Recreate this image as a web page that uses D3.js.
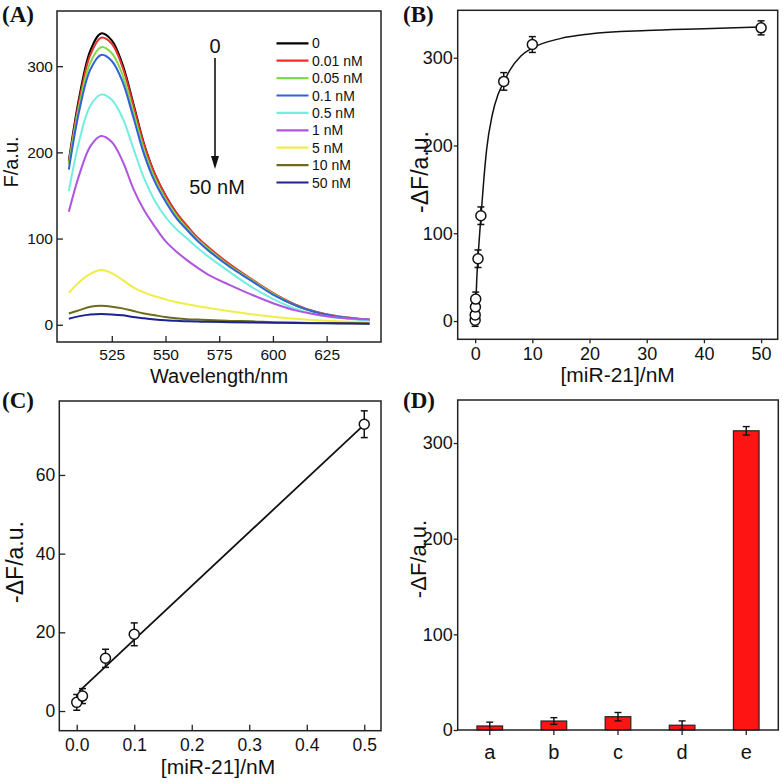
<!DOCTYPE html>
<html><head><meta charset="utf-8">
<script src="https://cdn.jsdelivr.net/npm/d3@7"></script>
<style>body{margin:0;background:#fff}svg{display:block}text{font-family:"Liberation Sans",Arial,sans-serif;fill:#111}</style>
</head><body>
<script>
// ---------- Panel A data ----------
const wavelengths = [505,510,515,520,525,530,535,540,545,550,555,560,565,570,580,590,600,610,620,630,645];
const concLabels = ["0","0.01 nM","0.05 nM","0.1 nM","0.5 nM","1 nM","5 nM","10 nM","50 nM"];
const concColors = ["#000000","#e8312c","#7fdc45","#3160d8","#72eedf","#b055df","#eeee44","#6e6b1c","#1b2390"];
const F_0     = [190,266,318,338,330,302,257,210,175,150,130,114,100,89,69,52,36,23,14.5,9,5.5];
const F_001   = [188,262,313,333,326,299,255,209,175,150,130,115,101,90,70,53,37,24,15,10,6];
const F_005   = [186,256,304,322,315,290,247,203,170,146,127,112,99,88,68,52,36,23,14.5,9.5,5.5];
const F_01    = [180,250,296,313,306,282,241,198,166,143,124,110,97,86,67,51,35,23,14.5,9.5,5.5];
const F_05    = [155,215,254,267,261,240,205,170,144,125,111,100,89,79,61,44,30,19,12,8,5];
const F_1     = [131,175,207,219,212,190,158,133,114,97,85,75,66,58,46,35,25,17,12,8.5,6];
const F_5     = [37,50,59,63.5,60,52,43.5,37.5,33,29.5,26.3,23.7,21.4,19.5,15.7,12.3,9.3,7,5.2,4,3];
const F_10    = [13,17,21,22,21,19,16,13,11,9,7.5,6.5,6,5.5,4.5,4,3,2.5,2,2,1.5];
const F_50    = [7,10,12,12.4,12,11,9,7.5,6.2,5.2,4.6,4,3.7,3.5,3,2.7,2.4,2,1.8,1.5,1.2];
const spectra = [F_0,F_001,F_005,F_01,F_05,F_1,F_5,F_10,F_50];
const ticksA_x = [525,550,575,600,625];
const ticksA_y = [0,100,200,300];

// ---------- Panel B data ----------
const concB = [0,0.01,0.05,0.1,0.5,1,5,10,50];
const dFB   = [1,7,16,25,71,120,273,315,334];
const errB  = [7,7,7,8,10,10,10,9,8];
const fitBx = [0,0.1,0.3,0.5,1,1.5,2,3,4,5,6,8,10,15,20,30,40,50];
const fitBy = [0,18,50,72,118,160,195,235,258,272,285,302,311,322,327,331,333,335];
const ticksB_x = [0,10,20,30,40,50];
const ticksB_y = [0,100,200,300];

// ---------- Panel C data ----------
const concC = [0,0.01,0.05,0.1,0.5];
const dFC   = [2.2,3.8,13.4,19.5,72.9];
const errC  = [2,1.9,2.3,2.9,3.4];
const fitCx = [0.004,0.5];
const fitCy = [5.0,72.8];
const ticksC_x = [0,0.1,0.2,0.3,0.4,0.5];
const ticksC_y = [0,20,40,60];

// ---------- Panel D data ----------
const samples = ["a","b","c","d","e"];
const dFD  = [4.2,9.4,13.9,5,312.8];
const errD = [4,3.5,4.4,4.5,4.4];
const ticksD_y = [0,100,200,300];

const svg = d3.select("body").append("svg").attr("width",783).attr("height",783);

function styleAxis(g, fs){
  g.select(".domain").remove();
  g.selectAll(".tick line").attr("stroke","#222").attr("stroke-width",1.3);
  g.selectAll(".tick text").attr("font-size",fs).attr("fill","#111")
    .attr("font-family","'Liberation Sans',Arial,sans-serif");
}
function frame(x0,y0,x1,y1){
  svg.append("rect").attr("x",x0).attr("y",y0).attr("width",x1-x0).attr("height",y1-y0)
    .attr("fill","none").attr("stroke","#222").attr("stroke-width",1.5);
}
function panelLabel(t,x,y){
  svg.append("text").attr("x",x).attr("y",y).text(t)
    .style("font-family","'Liberation Serif','Times New Roman',serif").style("font-weight","bold").attr("font-size",23);
}
function yTitle(t,x,y,fs){
  svg.append("text").attr("transform",`translate(${x},${y}) rotate(-90)`).attr("text-anchor","middle").attr("font-size",fs).text(t);
}
function xTitle(t,x,y,fs){
  svg.append("text").attr("x",x).attr("y",y).attr("text-anchor","middle").attr("font-size",fs).text(t);
}
function errorBars(g, xs, ys, es, xScale, yScale, cap){
  xs.forEach((xv,i)=>{
    const x = xScale(xv), y1 = yScale(ys[i]-es[i]), y2 = yScale(ys[i]+es[i]);
    g.append("line").attr("x1",x).attr("x2",x).attr("y1",y1).attr("y2",y2).attr("stroke","#111").attr("stroke-width",1.5);
    [y1,y2].forEach(yy=>g.append("line").attr("x1",x-cap).attr("x2",x+cap).attr("y1",yy).attr("y2",yy).attr("stroke","#111").attr("stroke-width",1.5));
  });
}

// ================= Panel A =================
{
  const L=57,R=381,T=11,B=342;
  const x = d3.scaleLinear().domain([499.5,650.3]).range([L,R]);
  const y = d3.scaleLinear().domain([-20,364]).range([B,T]);
  const g = svg.append("g");
  const line = d3.line().x((d,i)=>x(wavelengths[i])).y(d=>y(d)).curve(d3.curveCatmullRom.alpha(0.5));
  spectra.forEach((s,k)=>{
    g.append("path").attr("d",line(s)).attr("fill","none").attr("stroke",concColors[k]).attr("stroke-width",2);
  });
  frame(L,T,R,B);
  const ax = svg.append("g").attr("transform",`translate(0,${B})`)
    .call(d3.axisBottom(x).tickValues(ticksA_x).tickSizeInner(-6).tickSizeOuter(0).tickPadding(7));
  styleAxis(ax,15.5);
  const ay = svg.append("g").attr("transform",`translate(${L},0)`)
    .call(d3.axisLeft(y).tickValues(ticksA_y).tickSizeInner(-6).tickSizeOuter(0).tickPadding(4));
  styleAxis(ay,15.5);
  // legend
  concLabels.forEach((lab,i)=>{
    const yy = 43.3 + i*17.4;
    svg.append("line").attr("x1",276.5).attr("x2",308.5).attr("y1",yy).attr("y2",yy).attr("stroke",concColors[i]).attr("stroke-width",2.2);
    svg.append("text").attr("x",312).attr("y",yy).attr("dy","0.36em").attr("font-size",14).text(lab);
  });
  // arrow annotation
  svg.append("text").attr("x",215).attr("y",53).attr("text-anchor","middle").attr("font-size",20).text("0");
  svg.append("line").attr("x1",215).attr("x2",215).attr("y1",58).attr("y2",160).attr("stroke","#111").attr("stroke-width",1.6);
  svg.append("path").attr("d","M211,156 L219,156 L215,169 Z").attr("fill","#111");
  svg.append("text").attr("x",217).attr("y",194).attr("text-anchor","middle").attr("font-size",20).text("50 nM");
  xTitle("Wavelength/nm",219,383,20);
  yTitle("F/a.u.",18,162,20);
  panelLabel("(A)",2,22);
}

// ================= Panel B =================
{
  const L=457.7,R=777.7,T=10.3,B=339.3;
  const x = d3.scaleLinear().domain([-3.05,52.9]).range([L,R]);
  const y = d3.scaleLinear().domain([-20.8,354]).range([B,T]);
  const g = svg.append("g");
  const line = d3.line().x((d,i)=>x(fitBx[i])).y(d=>y(d)).curve(d3.curveMonotoneX);
  g.append("path").attr("d",line(fitBy)).attr("fill","none").attr("stroke","#111").attr("stroke-width",1.5);
  errorBars(g, concB, dFB, errB, x, y, 3.5);
  g.selectAll("circle.pt").data(dFB).join("circle").attr("cx",(d,i)=>x(concB[i])).attr("cy",d=>y(d)).attr("r",5)
    .attr("fill","#fff").attr("stroke","#111").attr("stroke-width",1.5);
  frame(L,T,R,B);
  const ax = svg.append("g").attr("transform",`translate(0,${B})`)
    .call(d3.axisBottom(x).tickValues(ticksB_x).tickSizeInner(4).tickSizeOuter(0).tickPadding(4));
  styleAxis(ax,18);
  const ay = svg.append("g").attr("transform",`translate(${L},0)`)
    .call(d3.axisLeft(y).tickValues(ticksB_y).tickSizeInner(4).tickSizeOuter(0).tickPadding(1));
  styleAxis(ay,18);
  xTitle("[miR-21]/nM",617.7,382,21);
  yTitle("-ΔF/a.u.",428,172,23);
  panelLabel("(B)",403,22);
}

// ================= Panel C =================
{
  const L=59.3,R=381,T=401,B=730.7;
  const x = d3.scaleLinear().domain([-0.0303,0.5291]).range([L,R]);
  const y = d3.scaleLinear().domain([-5,78.8]).range([B,T]);
  const g = svg.append("g");
  g.append("path").attr("d",d3.line().x((d,i)=>x(fitCx[i])).y(d=>y(d))(fitCy)).attr("fill","none").attr("stroke","#111").attr("stroke-width",1.8);
  errorBars(g, concC, dFC, errC, x, y, 3.5);
  g.selectAll("circle.pt").data(dFC).join("circle").attr("cx",(d,i)=>x(concC[i])).attr("cy",d=>y(d)).attr("r",5)
    .attr("fill","#fff").attr("stroke","#111").attr("stroke-width",1.5);
  frame(L,T,R,B);
  const ax = svg.append("g").attr("transform",`translate(0,${B})`)
    .call(d3.axisBottom(x).tickValues(ticksC_x).tickFormat(d3.format(".1f")).tickSizeInner(-6).tickSizeOuter(0).tickPadding(8));
  styleAxis(ax,17.5);
  const ay = svg.append("g").attr("transform",`translate(${L},0)`)
    .call(d3.axisLeft(y).tickValues(ticksC_y).tickSizeInner(-6).tickSizeOuter(0).tickPadding(4));
  styleAxis(ay,17.5);
  xTitle("[miR-21]/nM",218,774,21);
  yTitle("-ΔF/a.u.",23,562,23);
  panelLabel("(C)",2,408);
}

// ================= Panel D =================
{
  const L=457.7,R=778.3,T=400,B=730;
  const x = d3.scaleBand().domain(samples).range([L,R]).paddingInner(0.6).paddingOuter(0.3);
  const y = d3.scaleLinear().domain([0,345]).range([B,T]);
  const g = svg.append("g");
  g.selectAll("rect.bar").data(dFD).join("rect").attr("x",(d,i)=>x(samples[i])).attr("width",x.bandwidth())
    .attr("y",d=>y(d)).attr("height",d=>B-y(d)).attr("fill","#ff1414").attr("stroke","#222").attr("stroke-width",1.2);
  samples.forEach((s,i)=>{
    const cx = x(s)+x.bandwidth()/2, y1=y(Math.max(0,dFD[i]-errD[i])), y2=y(dFD[i]+errD[i]);
    g.append("line").attr("x1",cx).attr("x2",cx).attr("y1",y1).attr("y2",y2).attr("stroke","#111").attr("stroke-width",1.4);
    [y1,y2].forEach(yy=>g.append("line").attr("x1",cx-3.5).attr("x2",cx+3.5).attr("y1",yy).attr("y2",yy).attr("stroke","#111").attr("stroke-width",1.4));
  });
  frame(L,T,R,B);
  const ax = svg.append("g").attr("transform",`translate(0,${B})`)
    .call(d3.axisBottom(x).tickSizeInner(5).tickSizeOuter(0).tickPadding(10));
  styleAxis(ax,20);
  const ay = svg.append("g").attr("transform",`translate(${L},0)`)
    .call(d3.axisLeft(y).tickValues(ticksD_y).tickSizeInner(4).tickSizeOuter(0).tickPadding(1));
  styleAxis(ay,18);
  yTitle("-ΔF/a.u.",426,559,22);
  panelLabel("(D)",403,408);
}
</script>
</body></html>
